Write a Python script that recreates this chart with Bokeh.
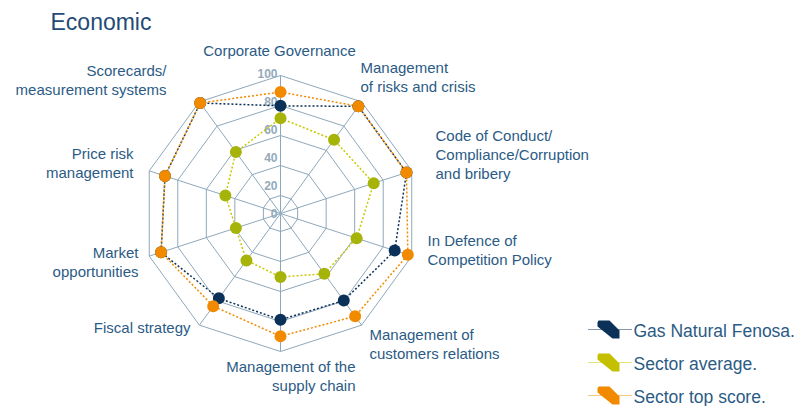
import math
from bokeh.plotting import figure
from bokeh.models import Range1d
from bokeh.core.properties import value
from bokeh.embed import file_html
from bokeh.resources import INLINE

# ---------------- data ----------------
categories = [
    "Corporate Governance",
    "Management of risks and crisis",
    "Code of Conduct/Compliance/Corruption and bribery",
    "In Defence of Competition Policy",
    "Management of customers relations",
    "Management of the supply chain",
    "Fiscal strategy",
    "Market opportunities",
    "Price risk management",
    "Scorecards/measurement systems",
]
gas_natural = [78, 96, 96, 87, 78, 77, 76, 91, 88, 99]
sector_avg = [69, 66, 71, 58, 54, 46, 42, 34, 42, 55]
sector_top = [88, 96, 96, 97, 92, 89, 83, 91, 88, 99]
tick_labels = ["0", "20", "40", "60", "80", "100"]
tick_values = [0, 20, 40, 60, 80, 100]
series_names = ["Gas Natural Fenosa.", "Sector average.", "Sector top score."]

# ---------------- style ----------------
W, H = 804, 406
CX, CY = 280, 213
PX_PER_UNIT = 1.38
ring_radii_px = [18, 48, 78, 108, 138]
GRID = "#8ea8bb"
TXT = "#2b5b85"
NAVY = "#0c3158"
GREEN_DOT = "#a6b40a"
GREEN_LINE = "#c9c800"
ORANGE = "#f28a00"
FONT = "Liberation Sans"

p = figure(width=W, height=H, output_backend="svg", toolbar_location=None,
           x_range=Range1d(0, W), y_range=Range1d(H, 0), min_border=0)
p.axis.visible = False
p.grid.visible = False
p.outline_line_color = None
p.background_fill_color = "white"
p.border_fill_color = "white"

n = len(categories)
angles = [math.radians(90 - 36 * i) for i in range(n)]


def pt(val_px, a):
    return CX + val_px * math.cos(a), CY - val_px * math.sin(a)


# grid rings
for r in ring_radii_px:
    xs, ys = zip(*[pt(r, a) for a in angles + angles[:1]])
    p.line(list(xs), list(ys), line_color=GRID, line_width=1)
# spokes
for a in angles:
    x1, y1 = pt(ring_radii_px[-1], a)
    p.line([CX, x1], [CY, y1], line_color=GRID, line_width=1)

# tick labels
p.text(x=[CX - 3] * len(tick_values),
       y=[CY - v * 1.4 for v in tick_values],
       text=tick_labels, text_align="right", text_baseline="middle",
       text_font=value(FONT), text_font_size="12px", text_font_style="bold",
       text_color="#93aabb")

# series
series = [(sector_avg, GREEN_LINE, GREEN_DOT), (gas_natural, NAVY, NAVY), (sector_top, ORANGE, ORANGE)]
for vals, lc, dc in series:
    pts = [pt(v * PX_PER_UNIT, a) for v, a in zip(vals, angles)]
    xs = [q[0] for q in pts]
    ys = [q[1] for q in pts]
    p.line(xs + xs[:1], ys + ys[:1], line_color=lc, line_width=1.5, line_dash="2 2")
for vals, lc, dc in series:
    pts = [pt(v * PX_PER_UNIT, a) for v, a in zip(vals, angles)]
    p.scatter([q[0] for q in pts], [q[1] for q in pts], size=12, fill_color=dc, line_color=None)

# category labels (page coordinates: x, y, align)
label_lines = [
    (["Corporate Governance"], 279, 50, "center"),
    (["Management", "of risks and crisis"], 360, 67, "left"),
    (["Code of Conduct/", "Compliance/Corruption", "and bribery"], 435, 135, "left"),
    (["In Defence of", "Competition Policy"], 427, 240, "left"),
    (["Management of", "customers relations"], 369, 334, "left"),
    (["Management of the", "supply chain"], 355, 366, "right"),
    (["Fiscal strategy"], 190, 327, "right"),
    (["Market", "opportunities"], 138, 252, "right"),
    (["Price risk", "management"], 133, 153, "right"),
    (["Scorecards/", "measurement systems"], 166, 70, "right"),
]
for lines, lx, ly, al in label_lines:
    p.text(x=[lx] * len(lines), y=[ly + 19 * k for k in range(len(lines))],
           text=lines, text_align=al, text_baseline="middle",
           text_font=value(FONT), text_font_size="15px", text_color=TXT)

# title
p.text(x=[50], y=[21], text=["Economic"], text_align="left", text_baseline="middle",
       text_font=value(FONT), text_font_size="23px", text_color="#1f4b77")

# legend
legend_rows = [329, 362, 395]
legend_cols = [(NAVY, NAVY), (GREEN_LINE, "#c4c000"), (ORANGE, ORANGE)]
shape = [(-11, -7), (-10, -9), (1, -9), (11, 1), (11, 9), (4, 9), (-11, -3)]
for name, ry, (lc, fc) in zip(series_names, legend_rows, legend_cols):
    p.line([588, 631], [ry, ry], line_color=lc, line_width=1, line_dash="1 1")
    mx = 608
    p.patch([mx + sx for sx, sy in shape], [ry + sy for sx, sy in shape], fill_color=fc, line_color=None)
    p.text(x=[633], y=[ry + 1], text=[name], text_align="left", text_baseline="middle",
           text_font=value(FONT), text_font_size="17.5px", text_color=TXT)

open("out.html", "w").write(file_html(p, INLINE))
